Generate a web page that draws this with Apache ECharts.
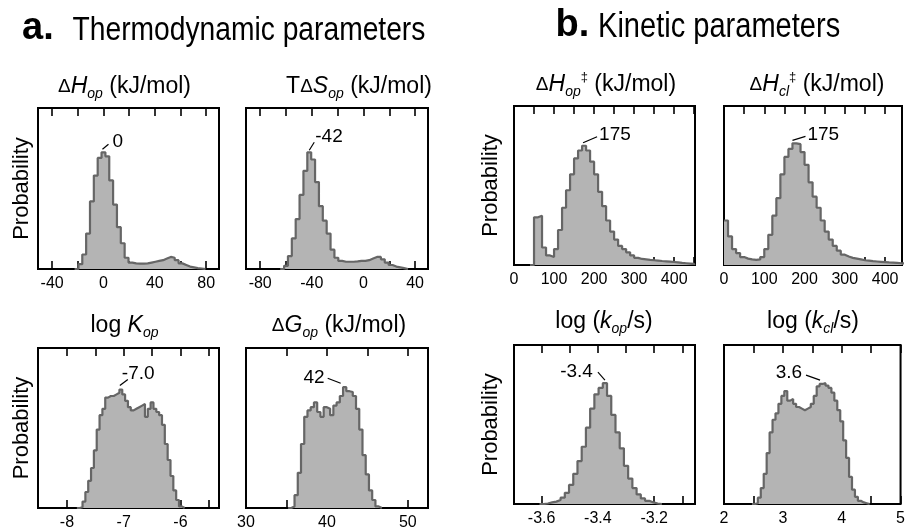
<!DOCTYPE html>
<html>
<head>
<meta charset="utf-8">
<script src="https://cdn.jsdelivr.net/npm/echarts@6/dist/echarts.min.js"></script>
<style>
  html, body { margin: 0; padding: 0; background: #fff; }
  #main { width: 908px; height: 531px; }
</style>
</head>
<body>
<div id="main"></div>
<script>
// histogram heights (percent of panel height)
// each list: first bin centre + bin width, then the bar heights
const dHopStart = -21, dHopWidth = 3;
const dHopVals = [0, 3, 9, 22, 42, 58, 69, 72.5, 70, 55, 40, 26, 16, 7, 4, 3.5, 3.3, 3.3, 3.5, 4,
  4.5, 5, 5.5, 6.5, 7.5, 7, 5.5, 3.5, 2.5, 1.5, 1, 0.5, 0.3, 0];

const tdSopStart = -63, tdSopWidth = 3;
const tdSopVals = [0, 2, 8, 19, 31, 46, 61, 72.5, 68, 54, 39, 30, 22, 12, 7, 5, 4.5, 4.5, 4.5, 4.7,
  5, 5, 5.5, 6.5, 7.5, 7.5, 6, 4, 2.5, 1.5, 1, 0.5, 0];

const dHopTSStart = 45, dHopTSWidth = 10;
const dHopTSVals = [0, 30, 31, 11, 6, 5, 10, 22, 36, 47, 57, 67, 72, 75, 72, 65, 57, 46, 37, 28,
  21, 16, 12, 10, 8, 6, 4.5, 3.8, 3.5, 3.2, 3, 2.8, 2.5, 2.3, 2.1, 1.9, 1.6, 1.3, 1.1, 0.9, 0.7];

const dHclTSStart = 5, dHclTSWidth = 10;
const dHclTSVals = [28, 18, 10, 7.5, 5, 4, 3.5, 3.2, 3.5, 5, 10, 19, 31, 42, 57, 68, 73, 76.5, 76, 71,
  63, 52, 43, 36, 28, 21, 16, 12, 9, 6.5, 5.3, 4.5, 4, 3.5, 3, 2.7, 2.4, 2.2, 2, 1.8, 1.6, 1.5, 1.3, 1.1, 1];

const logKopStart = -7.8, logKopWidth = 0.05;
const logKopVals = [0, 0.5, 4, 10, 17, 25, 36, 49, 58, 62, 69, 70, 70, 71, 72, 74, 71, 67, 63, 61,
  62, 63, 64, 65, 57, 62, 66, 62, 60, 58, 52, 40, 30, 20, 11, 5, 1, 0];

const dGopStart = 35.4, dGopWidth = 0.4;
const dGopVals = [0, 1, 8, 22, 40, 57, 61, 63, 66, 60, 57, 63, 62, 58, 64, 66, 70, 75.5, 73, 72.5,
  70, 62, 49, 33, 21, 11, 5, 1, 0];

const logKopRateStart = -3.6, logKopRateWidth = 0.015;
const logKopRateVals = [0, 0.3, 1, 1.5, 2.5, 4, 7, 12, 19, 27, 36, 48, 60, 69, 73, 76, 68, 56, 45, 35,
  24, 16, 10, 6, 3.5, 2, 1, 0.3, 0];

const logKclRateStart = 2.5, logKclRateWidth = 0.05;
const logKclRateVals = [0, 0.5, 4, 10, 19, 32, 45, 53, 57, 63, 68, 71, 65, 66, 63, 61, 60, 59, 60, 61,
  63, 68, 74, 75.5, 76, 74.5, 73, 70, 65, 59, 52, 40, 29, 17, 9, 4.5, 2, 1, 0.5, 0];

// tick marks and tick labels
const dHopTicks = [-40, -20, 0, 20, 40, 60, 80], dHopLabels = [-40, 0, 40, 80];
const tdSopTicks = [-80, -60, -40, -20, 0, 20, 40], tdSopLabels = [-80, -40, 0, 40];
const dHTSTicks = [0, 50, 100, 150, 200, 250, 300, 350, 400, 450], dHTSLabels = [0, 100, 200, 300, 400];
const logKopTicks = [-8, -7.5, -7, -6.5, -6, -5.5], logKopLabels = [-8, -7, -6];
const dGopTicks = [30, 35, 40, 45, 50], dGopLabels = [30, 40, 50];
const kopTicks = [-3.6, -3.5, -3.4, -3.3, -3.2, -3.1], kopLabels = [-3.6, -3.4, -3.2];
const kclTicks = [2, 2.5, 3, 3.5, 4, 4.5, 5], kclLabels = [2, 3, 4, 5];

// peak annotations
const peakLabels = ['0', '-42', '175', '175', '-7.0', '42', '-3.4', '3.6'];

const SANS = "'Liberation Sans', Arial, sans-serif";

// layout: grid box [left, top, width, height], axis range, leader line + label offsets from the peak
const panels = [
  { box: [38, 108, 181, 161], min: -51, max: 90, start: dHopStart, w: dHopWidth, vals: dHopVals,
    ticks: dHopTicks, labels: dHopLabels, prob: true, gap: 5, ann: [-1, -3, 5, -8, 9, -11, 'left'] },
  { box: [246, 108, 182, 161], min: -91, max: 50, start: tdSopStart, w: tdSopWidth, vals: tdSopVals,
    ticks: tdSopTicks, labels: tdSopLabels, ann: [0, -2, 5, -10, 6, -16, 'left'] },
  { box: [514, 106, 181, 159], min: 0, max: 452, start: dHopTSStart, w: dHopTSWidth, vals: dHopTSVals,
    ticks: dHTSTicks, labels: dHTSLabels, prob: true, gap: 12, ann: [-1, -3, 13, -9, 15, -11, 'left'] },
  { box: [724, 106, 178, 159], min: 0, max: 442, start: dHclTSStart, w: dHclTSWidth, vals: dHclTSVals,
    ticks: dHTSTicks, labels: dHTSLabels, ann: [-2, -3, 11, -7, 13, -9, 'left'] },
  { box: [38, 348, 181, 161], min: -8.51, max: -5.32, start: logKopStart, w: logKopWidth, vals: logKopVals,
    ticks: logKopTicks, labels: logKopLabels, prob: true, gap: 5, ann: [-1, -4, 7, -10, 1, -16, 'left'] },
  { box: [246, 348, 182, 161], min: 30, max: 52.5, start: dGopStart, w: dGopWidth, vals: dGopVals,
    ticks: dGopTicks, labels: dGopLabels, ann: [-4, -4, -17, -9, -20, -9, 'right'] },
  { box: [514, 345, 181, 159], min: -3.698, max: -3.055, start: logKopRateStart, w: logKopRateWidth, vals: logKopRateVals,
    ticks: kopTicks, labels: kopLabels, prob: true, gap: 12, ann: [0, -3, -7, -11, -12, -11, 'right'] },
  { box: [724, 345, 178, 159], min: 2, max: 5, start: logKclRateStart, w: logKclRateWidth, vals: logKclRateVals,
    ticks: kclTicks, labels: kclLabels, ann: [-4, -3, -18, -8, -22, -10, 'right'] }
];

const fmt = v => String(Math.round(v * 1000) / 1000);

const grid = [], xAxis = [], yAxis = [], series = [];
panels.forEach((p, k) => {
  grid.push({ left: p.box[0], top: p.box[1], width: p.box[2], height: p.box[3],
    show: true, borderColor: '#000', borderWidth: 2, backgroundColor: 'transparent' });
  ['bottom', 'top'].forEach(pos => {
    xAxis.push({
      type: 'value', gridIndex: k, position: pos, min: p.min, max: p.max,
      axisLine: { show: false }, splitLine: { show: false },
      axisTick: { show: true, inside: true, length: 8, customValues: p.ticks,
        lineStyle: { color: '#000', width: 1.6 } },
      axisLabel: { show: pos === 'bottom', customValues: p.labels, margin: 7,
        color: '#000', fontSize: 16, fontFamily: SANS, formatter: fmt }
    });
  });
  yAxis.push({
    type: 'value', gridIndex: k, min: 0, max: 100,
    axisLine: { show: false }, axisTick: { show: false }, axisLabel: { show: false },
    splitLine: { show: false },
    name: p.prob ? 'Probability' : '', nameLocation: 'middle', nameGap: p.gap || 5,
    nameTextStyle: { color: '#000', fontSize: 22, fontFamily: SANS }
  });
  // bins drawn from their left edges
  const data = p.vals.map((v, i) => [p.start - p.w / 2 + i * p.w, v]);
  data.push([p.start - p.w / 2 + p.vals.length * p.w, 0]);
  series.push({
    type: 'line', xAxisIndex: 2 * k, yAxisIndex: k, step: 'end', data: data,
    showSymbol: false, symbol: 'none', silent: true,
    lineStyle: { color: '#666', width: 2.2 },
    areaStyle: { color: '#b4b4b4', opacity: 1 }
  });
});

const chart = echarts.init(document.getElementById('main'));
chart.setOption({
  animation: false,
  backgroundColor: '#fff',
  grid: grid, xAxis: xAxis, yAxis: yAxis, series: series
});

const rich = {
  n: { fontFamily: SANS, fontSize: 23, lineHeight: 28, verticalAlign: 'middle', fill: '#000' },
  i: { fontFamily: SANS, fontSize: 23, fontStyle: 'italic', lineHeight: 28, verticalAlign: 'middle', fill: '#000' },
  g: { fontFamily: SANS, fontSize: 19, lineHeight: 28, verticalAlign: 'middle', fill: '#000' },
  s: { fontFamily: SANS, fontSize: 14, fontStyle: 'italic', lineHeight: 12, verticalAlign: 'bottom', fill: '#000' },
  u: { fontFamily: SANS, fontSize: 13, lineHeight: 16, verticalAlign: 'top', fill: '#000' }
};

const panelTitles = [
  ['{g|Δ}{i|H}{s|op}{n| (kJ/mol)}', 124.5, 87],
  ['{n|T}{g|Δ}{i|S}{s|op}{n| (kJ/mol)}', 359, 87],
  ['{g|Δ}{i|H}{s|op}{u|‡}{n| (kJ/mol)}', 606, 85],
  ['{g|Δ}{i|H}{s|cl}{u|‡}{n| (kJ/mol)}', 817, 85],
  ['{n|log }{i|K}{s|op}', 124.5, 326],
  ['{g|Δ}{i|G}{s|op}{n| (kJ/mol)}', 339, 326],
  ['{n|log (}{i|k}{s|op}{n|/s)}', 604, 322],
  ['{n|log (}{i|k}{s|cl}{n|/s)}', 813, 322]
];

const gfx = [];
panelTitles.forEach(t => gfx.push({
  type: 'text', x: t[1], y: t[2], silent: true,
  style: { text: t[0], rich: rich, align: 'center', verticalAlign: 'middle', fill: '#000' }
}));

// figure headers (condensed lettering in the original)
const headStyle = (text, font) => ({ text: text, font: font, fill: '#000', align: 'left', verticalAlign: 'middle' });
gfx.push({ type: 'text', x: 22, y: 29, style: headStyle('a.', 'bold 38px ' + SANS) });
gfx.push({ type: 'text', x: 72.5, y: 31, scaleX: 0.83, style: headStyle('Thermodynamic parameters', '34px ' + SANS) });
gfx.push({ type: 'text', x: 555.5, y: 26, style: headStyle('b.', 'bold 38px ' + SANS) });
gfx.push({ type: 'text', x: 598, y: 27.5, scaleX: 0.83, style: headStyle('Kinetic parameters', '35px ' + SANS) });

// peak labels with short leader lines
panels.forEach((p, k) => {
  let m = 0;
  p.vals.forEach((v, i) => { if (v > p.vals[m]) m = i; });
  const pt = chart.convertToPixel({ xAxisIndex: 2 * k, yAxisIndex: k }, [p.start + m * p.w, p.vals[m]]);
  const a = p.ann;
  gfx.push({ type: 'line', silent: true,
    shape: { x1: pt[0] + a[0], y1: pt[1] + a[1], x2: pt[0] + a[2], y2: pt[1] + a[3] },
    style: { stroke: '#000', lineWidth: 1.2 } });
  gfx.push({ type: 'text', x: pt[0] + a[4], y: pt[1] + a[5], silent: true,
    style: { text: peakLabels[k], font: '19px ' + SANS, fill: '#000', align: a[6], verticalAlign: 'middle' } });
});

chart.setOption({ graphic: gfx });
</script>
</body>
</html>
